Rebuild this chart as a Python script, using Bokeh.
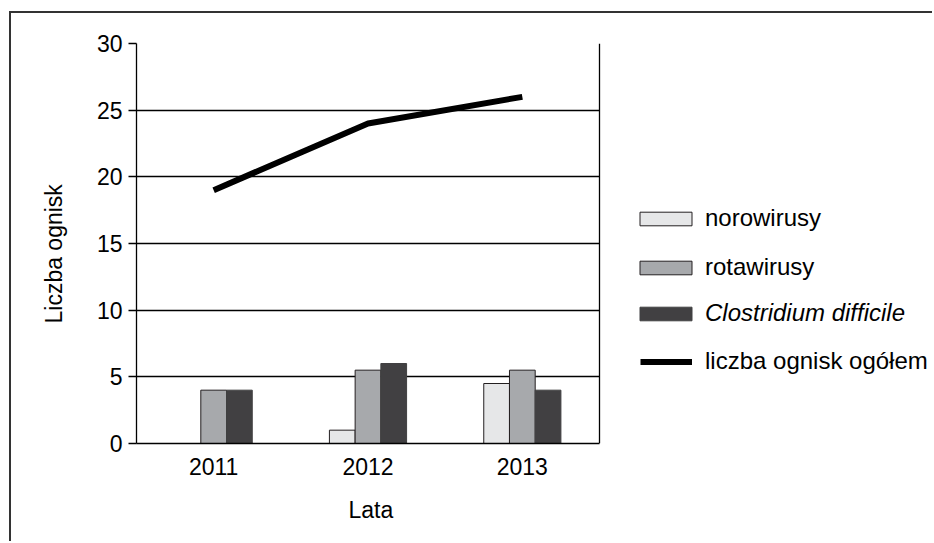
from bokeh.plotting import figure
from bokeh.models import (ColumnDataSource, Legend, LegendItem, FixedTicker, Span,
                          Range1d, Title)
from bokeh.transform import dodge
from bokeh.embed import file_html
from bokeh.resources import INLINE

years = ["2011", "2012", "2013"]
norowirusy = [0, 1, 4.5]
rotawirusy = [4, 5.5, 5.5]
clostridium = [4, 6, 4]
ogolem = [19, 24, 26]
y_ticks = [0, 5, 10, 15, 20, 25, 30]

src = ColumnDataSource(dict(xi=list(range(len(years))), year=years, noro=norowirusy,
                            rota=rotawirusy, clos=clostridium, total=ogolem))

FONT = "Liberation Sans"
FS = "23px"
LFS = "24px"

# chart box spans 463 px for the three year slots; the frame continues to the right
# so that the legend (drawn inside the frame) is not clipped
CHART_W = 463
FRAME_W = 796
unit = CHART_W / len(years)
x0 = -0.5
x1 = x0 + FRAME_W / unit
chart_end = x0 + len(years)

p = figure(frame_width=FRAME_W, frame_height=400,
           x_range=Range1d(x0, x1), y_range=Range1d(0, 30),
           output_backend="svg", toolbar_location=None,
           min_border_left=125, min_border_right=0, min_border_top=30,
           min_border_bottom=98)
# outer frame of the figure (left and top edges, as in the scan)
p.styles = {"margin-left": "9px", "margin-top": "11px",
            "border-left": "2px solid #333333", "border-top": "2px solid #333333"}
p.outline_line_color = None

bw = 1 / 6
r_noro = p.vbar(x=dodge("xi", -bw), top="noro", width=bw, source=src,
                fill_color="#e6e7e8", line_color="#231f20", line_width=1)
r_rota = p.vbar(x=dodge("xi", 0), top="rota", width=bw, source=src,
                fill_color="#a7a9ac", line_color="#231f20", line_width=1)
r_clos = p.vbar(x=dodge("xi", bw), top="clos", width=bw, source=src,
                fill_color="#414042", line_color="#414042", line_width=1)
r_line = p.line(x="xi", y="total", source=src, line_color="black", line_width=6)

# grid / axes
p.xgrid.grid_line_color = None
p.ygrid.grid_line_color = "black"
p.ygrid.grid_line_width = 1.3
p.ygrid.ticker = FixedTicker(ticks=y_ticks)
p.ygrid.cross_bounds = (x0, chart_end)
p.add_layout(Span(location=chart_end, dimension="height", line_color="black",
                  line_width=1.3))

p.yaxis.ticker = FixedTicker(ticks=y_ticks)
p.yaxis.major_tick_out = 8
p.yaxis.major_tick_in = 0
p.yaxis.minor_tick_out = 0
p.yaxis.minor_tick_in = 0
p.yaxis.major_label_standoff = 6

p.xaxis.ticker = FixedTicker(ticks=list(range(len(years))))
p.xaxis.major_label_overrides = {i: y for i, y in enumerate(years)}
p.xaxis.bounds = (x0, chart_end)
p.xaxis.major_tick_out = 0
p.xaxis.major_tick_in = 0
p.xaxis.minor_tick_out = 0
p.xaxis.minor_tick_in = 0
p.xaxis.major_label_standoff = 14

for ax in (p.xaxis, p.yaxis):
    ax.axis_line_color = "black"
    ax.axis_line_width = 1.3
    ax.major_tick_line_color = "black"
    ax.major_tick_line_width = 1.3
    ax.major_label_text_font = FONT
    ax.major_label_text_font_size = FS
    ax.major_label_text_color = "black"

# axis titles (placed as titles so they can sit under/beside the chart box)
xlab = Title(text="Lata", align="left", offset=212, standoff=34,
             text_font=FONT, text_font_size=FS, text_font_style="normal",
             text_color="black")
p.add_layout(xlab, "below")
ylab = Title(text="Liczba ognisk", align="left", offset=120, standoff=54,
             text_font=FONT, text_font_size=FS, text_font_style="normal",
             text_color="black")
p.add_layout(ylab, "left")

common = dict(glyph_height=17, label_height=18, padding=0, margin=0,
              border_line_color=None, background_fill_alpha=0,
              label_text_font=FONT, label_text_font_size=LFS, label_text_color="black")

leg1 = Legend(items=[LegendItem(label="norowirusy", renderers=[r_noro]),
                     LegendItem(label="rotawirusy", renderers=[r_rota])],
              location=(497, 162), glyph_width=65, label_standoff=7, spacing=21,
              **common)
leg2 = Legend(items=[LegendItem(label="Clostridium difficile", renderers=[r_clos])],
              location=(497, 116), glyph_width=65, label_standoff=7, spacing=0,
              label_text_font_style="italic", **common)
leg3 = Legend(items=[LegendItem(label="liczba ognisk ogółem", renderers=[r_line])],
              location=(504, 68), glyph_width=52, label_standoff=13, spacing=0,
              **common)
for lg in (leg1, leg2, leg3):
    p.add_layout(lg)

open("out.html", "w").write(file_html(p, INLINE))
